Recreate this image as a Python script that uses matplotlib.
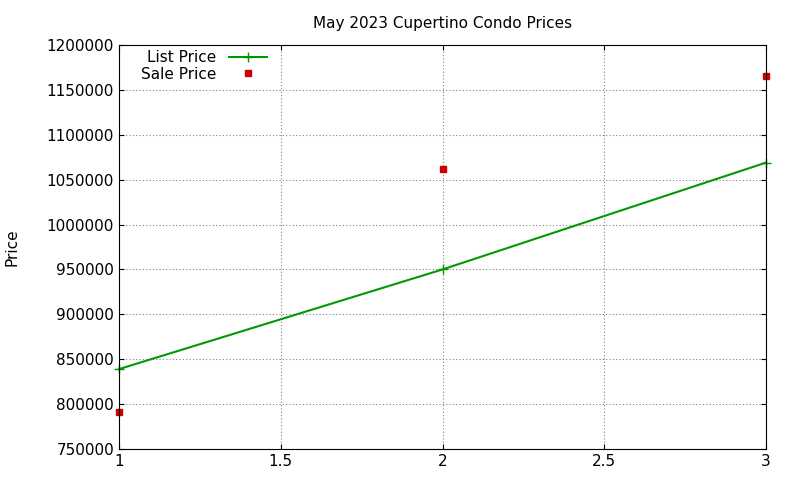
import matplotlib
matplotlib.use("Agg")
import matplotlib.pyplot as plt

x = [1, 2, 3]
list_price = [839000, 950000, 1069000]
sale_price = [791000, 1062000, 1166000]
yticks = list(range(750000, 1200001, 50000))
xticks = [1, 1.5, 2, 2.5, 3]
xlabels = ["1", "1.5", "2", "2.5", "3"]

fig = plt.figure(figsize=(8, 4.8), dpi=100)
ax = fig.add_axes([119/800, 1-449/480, (766-119)/800, (449-45)/480])
ax.plot(x, list_price, color="#009900", marker="+", markersize=7, lw=1.5, label="List Price", clip_on=False)
ax.plot(x, sale_price, color="#cc0000", marker="s", markersize=5, lw=0, label="Sale Price", clip_on=False)
ax.set_xlim(1, 3)
ax.set_ylim(750000, 1200000)
ax.set_xticks(xticks, xlabels)
ax.set_yticks(yticks, [str(v) for v in yticks])
ax.grid(True, color="#808080", linestyle=(0, (1, 2)), lw=0.8)
ax.tick_params(direction="in", top=True, right=True, labelsize=11)
ax.set_title("May 2023 Cupertino Condo Prices", fontsize=11, pad=12)
ax.set_ylabel("Price", fontsize=11)
ax.yaxis.set_label_coords(-100/647, 0.5)
ax.legend(loc="upper left", bbox_to_anchor=(0.02, 1.01), frameon=False, markerfirst=False,
          fontsize=11, handlelength=2.5, borderaxespad=0.2, labelspacing=0.1)
for s in ax.spines.values():
    s.set_linewidth(0.8)
fig.savefig("out.png", dpi=100)
